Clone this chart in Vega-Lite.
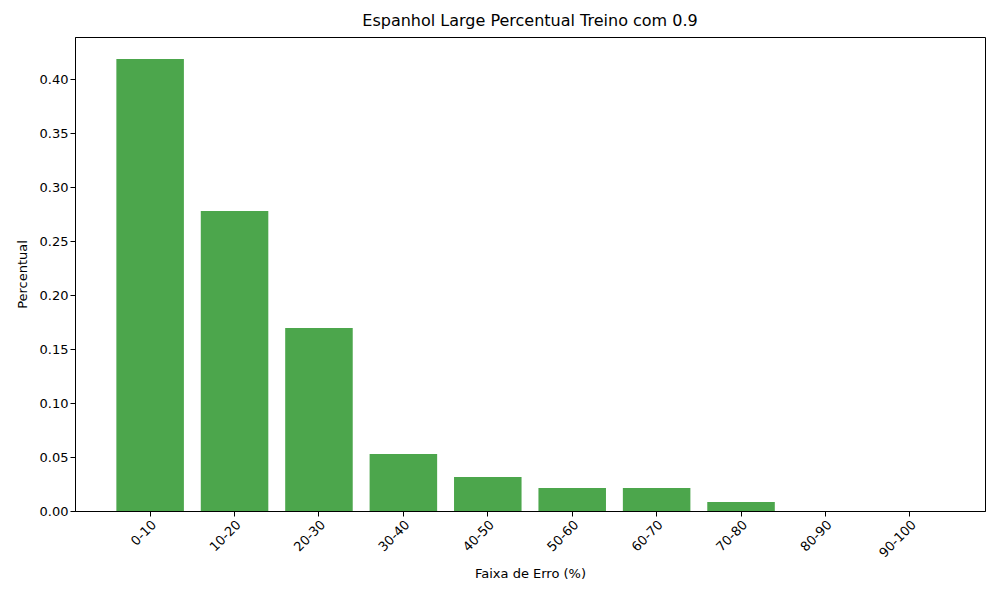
{
  "$schema": "https://vega.github.io/schema/vega-lite/v6.json",
  "width": 910,
  "height": 474,
  "autosize": "none",
  "padding": {"left": 75, "top": 37, "right": 15, "bottom": 89},
  "background": "white",
  "title": {"text": "Espanhol Large Percentual Treino com 0.9", "fontSize": 16, "fontWeight": "normal", "font": "DejaVu Sans", "color": "black", "offset": 8},
  "data": {"values": [
    {"faixa": "0-10", "pct": 0.4185},
    {"faixa": "10-20", "pct": 0.2778},
    {"faixa": "20-30", "pct": 0.1694},
    {"faixa": "30-40", "pct": 0.0528},
    {"faixa": "40-50", "pct": 0.0315},
    {"faixa": "50-60", "pct": 0.0213},
    {"faixa": "60-70", "pct": 0.0213},
    {"faixa": "70-80", "pct": 0.0083},
    {"faixa": "80-90", "pct": 0},
    {"faixa": "90-100", "pct": 0}
  ]},
  "mark": {"type": "bar", "color": "#4ca64c"},
  "encoding": {
    "x": {"field": "faixa", "type": "ordinal", "sort": null, "title": "Faixa de Erro (%)",
      "scale": {"paddingInner": 0.2, "paddingOuter": 0.49},
      "axis": {"labelAngle": -45, "labelAlign": "right", "labelBaseline": "top", "labelOffset": 0, "labelFontSize": 13, "titleFontSize": 13, "titleFontWeight": "normal", "labelFont": "DejaVu Sans", "titleFont": "DejaVu Sans", "labelColor": "black", "titleColor": "black", "domainColor": "black", "tickColor": "black", "tickSize": 5, "titlePadding": 8}},
    "y": {"field": "pct", "type": "quantitative", "title": "Percentual",
      "scale": {"domain": [0, 0.4389], "nice": false},
      "axis": {"values": [0, 0.05, 0.1, 0.15, 0.2, 0.25, 0.3, 0.35, 0.4], "format": ".2f", "grid": false, "labelFontSize": 13, "titleFontSize": 13, "titleFontWeight": "normal", "labelFont": "DejaVu Sans", "titleFont": "DejaVu Sans", "labelColor": "black", "titleColor": "black", "domainColor": "black", "tickColor": "black", "tickSize": 5, "titlePadding": 10}}
  },
  "config": {"view": {"stroke": "black", "strokeWidth": 1}}
}
